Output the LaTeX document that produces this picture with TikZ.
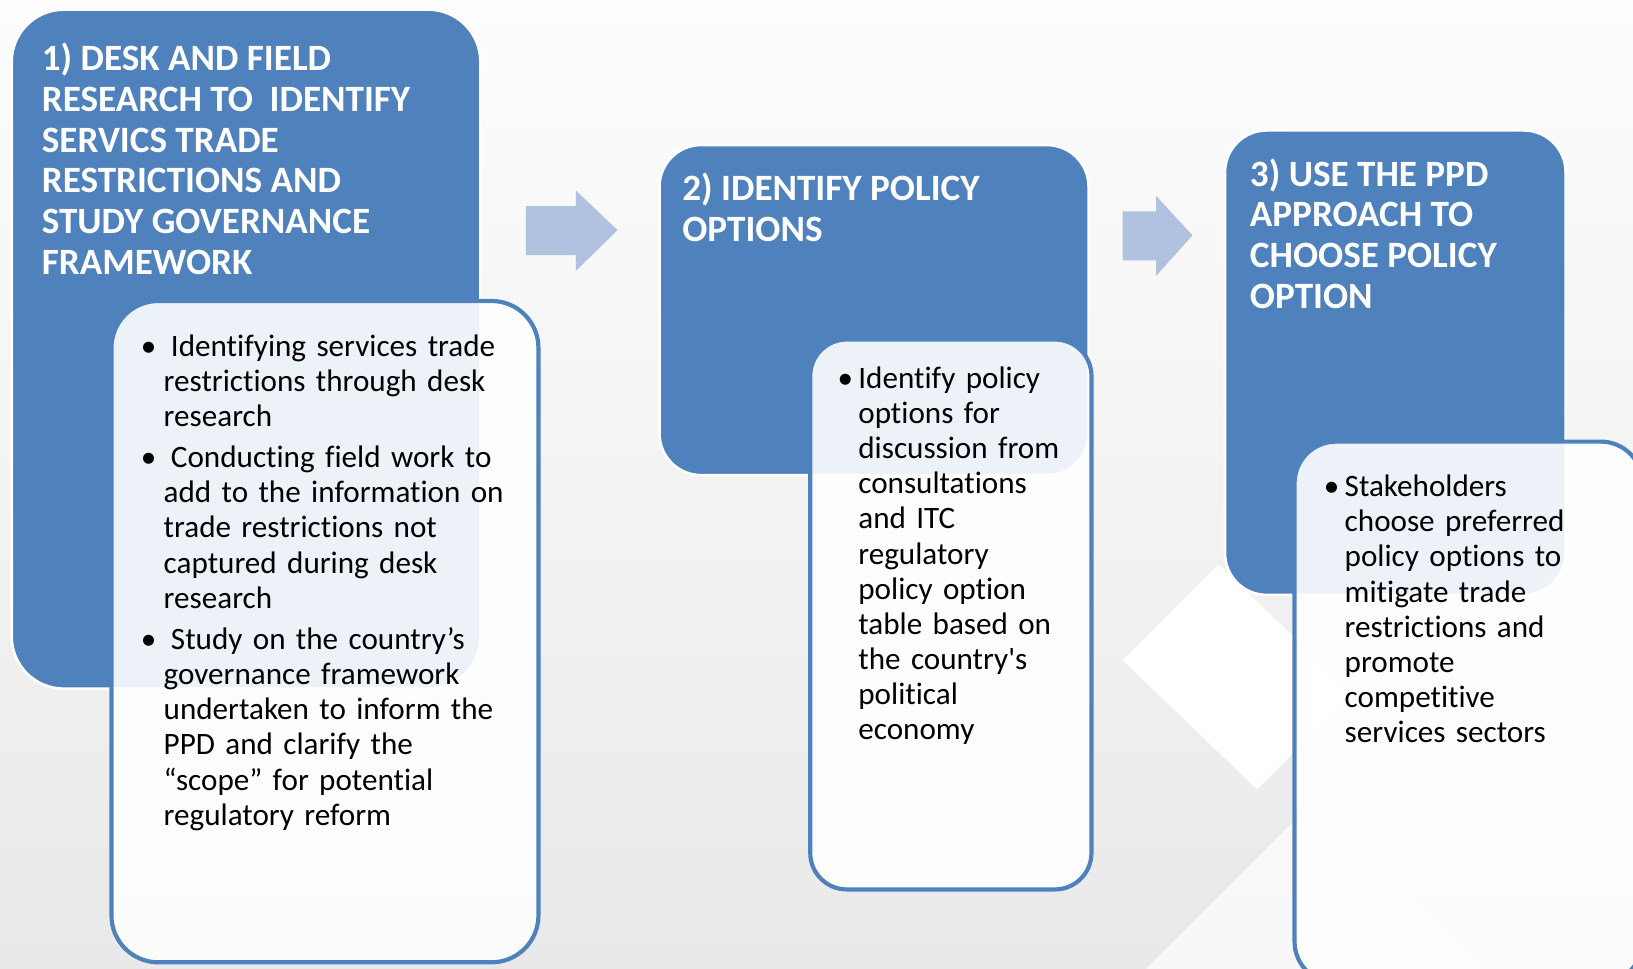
\documentclass[tikz,border=0pt]{standalone}
\usepackage{fontspec}
\newfontfamily\carl{Carlito}[Ligatures=CommonOff]
\definecolor{pblue}{RGB}{79,129,189}
\definecolor{parrow}{RGB}{176,194,223}
\definecolor{bgtop}{RGB}{253,253,253}
\definecolor{bgbot}{RGB}{233,233,233}
\newcommand{\mytitle}{\carl\bfseries\fontsize{35.8}{39.3}\selectfont}
\newcommand{\mybody}{\carl\fontsize{30}{33.85}\selectfont}
\newcommand{\bitem}[1]{\hangindent=20bp\hangafter=1\noindent\makebox[20bp][l]{•}#1\par}
\newcommand{\bitemwide}[1]{\hangindent=20bp\hangafter=1\noindent\makebox[20bp][l]{\hspace{-2bp}•}\hspace{7bp}#1\par}
\tikzset{
  bluebox/.style={fill=pblue, draw=white, line width=2.5bp, anchor=north west, inner sep=0pt},
  whitebox/.style={fill=white, fill opacity=0.9, draw=pblue, draw opacity=1, line width=4bp, anchor=north west, inner sep=0pt},
  titletext/.style={anchor=north west, inner sep=0pt, align=left, text=white, font=\mytitle},
  bodytext/.style={anchor=north west, inner sep=0pt, text width=420bp, align=left, text=black, font=\mybody},
  blockarrow/.style={fill=parrow, draw=none}
}
\begin{document}
\begin{tikzpicture}[x=1bp,y=-1bp]
\useasboundingbox (0,0) rectangle (1568,930);
\clip (0,0) rectangle (1568,930);
% background
\shade[top color=bgtop, bottom color=bgbot] (0,0) rectangle (1568,930);
\fill[white] (1078,634) -- (1170,542) -- (1299,666) -- (1207,758) -- cycle;
\fill[white, opacity=0.7] (1085,946) -- (1260,771) -- (1420,931) -- (1405,946) -- cycle;
% step 1
\node[bluebox, rounded corners=50bp, minimum width=450bp, minimum height=652bp] (b1) at (10,8) {};
\node[titletext] (t1) at (40,41) {1) DESK AND FIELD\\RESEARCH TO \ IDENTIFY\\SERVICS TRADE\\RESTRICTIONS AND\\STUDY GOVERNANCE\\FRAMEWORK};
\node[whitebox, rounded corners=45bp, minimum width=410bp, minimum height=635bp] (w1) at (105,287) {};
\node[bodytext] (l1) at (137,321) {\parskip=6bp
\bitemwide{Identifying services trade\newline restrictions through desk\newline research}
\bitemwide{Conducting field work to\newline add to the information on\newline trade restrictions not\newline captured during desk\newline research}
\bitemwide{Study on the country’s\newline governance framework\newline undertaken to inform the\newline PPD and clarify the\newline “scope” for potential\newline regulatory reform}};
% arrow 1
\path[blockarrow] (505,198) -- (553,198) -- (553,183) -- (593,221) -- (553,260) -- (553,245) -- (505,245) -- cycle;
% step 2
\node[bluebox, rounded corners=40bp, minimum width=412bp, minimum height=317bp] (b2) at (632,138) {};
\node[titletext] (t2) at (655,166) {2) IDENTIFY POLICY\\OPTIONS};
\node[whitebox, rounded corners=35bp, minimum width=270bp, minimum height=528bp] (w2) at (776,324) {};
\node[bodytext] (l2) at (804,352) {\bitem{Identify policy\newline options for\newline discussion from\newline consultations\newline and ITC\newline regulatory\newline policy option\newline table based on\newline the country's\newline political\newline economy}};
% arrow 2
\path[blockarrow] (1078,203) -- (1110,203) -- (1110,188) -- (1145,226) -- (1110,265) -- (1110,250) -- (1078,250) -- cycle;
% step 3
\node[bluebox, rounded corners=40bp, minimum width=327bp, minimum height=446bp] (b3) at (1175,124) {};
\node[titletext] (t3) at (1200,152) {3) USE THE PPD\\APPROACH TO\\CHOOSE POLICY\\OPTION};
\node[whitebox, rounded corners=40bp, minimum width=334bp, minimum height=520bp] (w3) at (1241,422) {};
\node[bodytext] (l3) at (1271,456) {\bitem{Stakeholders\newline choose preferred\newline policy options to\newline mitigate trade\newline restrictions and\newline promote\newline competitive\newline services sectors}};
\end{tikzpicture}
\end{document}
